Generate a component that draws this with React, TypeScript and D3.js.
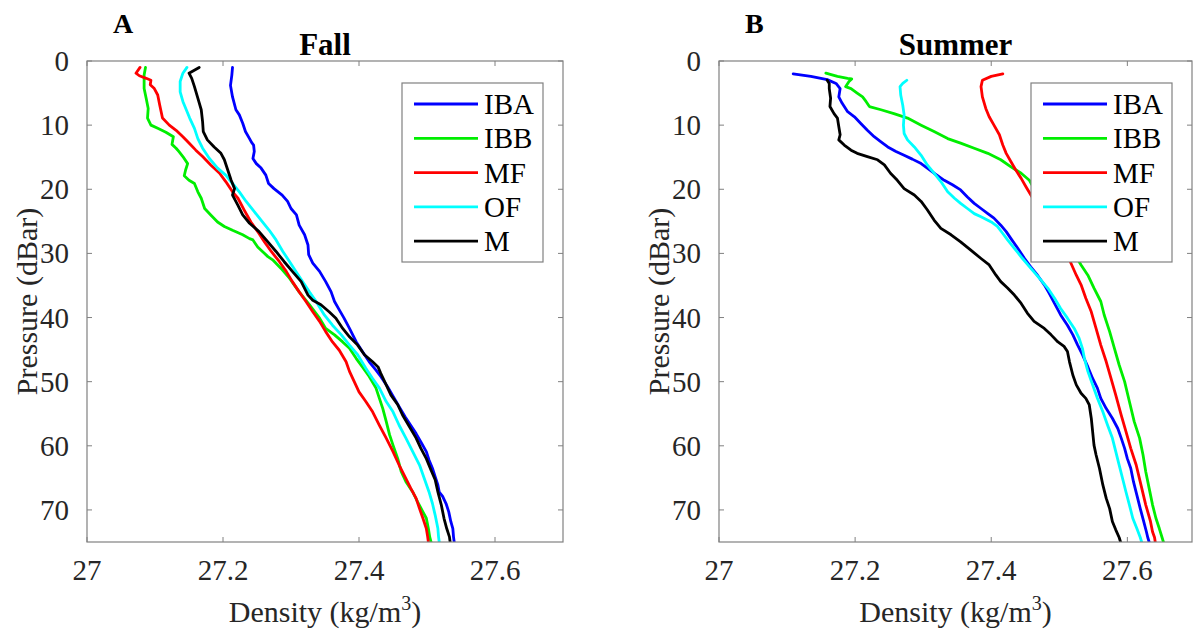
import React from 'react';
import * as d3 from 'd3';

type Pt = [number, number]; // [density, pressure]

const seriesNames = ['IBA', 'IBB', 'MF', 'OF', 'M'];
const seriesColors = ['#0000ff', '#00ee00', '#ff0000', '#00ffff', '#000000'];
const xTicks = [27, 27.2, 27.4, 27.6];
const yTicks = [0, 10, 20, 30, 40, 50, 60, 70];
const panelTitles = ['Fall', 'Summer'];
const panelLetters = ['A', 'B'];

// ---- Fall ----
const fallIBA: Pt[] = [[27.214,1.0],[27.213,2.2],[27.211,3.8],[27.214,5.6],[27.219,7.6],[27.224,8.4],[27.229,9.7],[27.233,11.0],[27.239,12.1],[27.242,12.7],[27.245,13.1],[27.246,14.1],[27.244,15.2],[27.249,16.0],[27.256,16.7],[27.263,17.8],[27.267,19.1],[27.275,19.9],[27.287,20.9],[27.295,21.9],[27.300,23.0],[27.308,24.0],[27.312,25.6],[27.320,27.1],[27.325,28.7],[27.326,30.2],[27.332,31.5],[27.342,32.8],[27.351,34.4],[27.359,36.0],[27.364,37.5],[27.371,38.8],[27.378,40.1],[27.386,41.7],[27.396,43.8],[27.405,45.3],[27.415,46.9],[27.425,48.2],[27.432,49.2],[27.442,50.8],[27.452,52.6],[27.459,53.9],[27.468,55.5],[27.476,56.8],[27.484,58.1],[27.491,59.4],[27.499,60.9],[27.503,62.2],[27.508,63.5],[27.512,64.8],[27.516,66.1],[27.518,67.2],[27.523,67.9],[27.528,69.0],[27.532,70.3],[27.535,71.8],[27.538,72.9],[27.539,74.2],[27.540,75]];
const fallIBB: Pt[] = [[27.086,1.0],[27.084,2.2],[27.084,4.3],[27.087,5.8],[27.090,7.4],[27.089,8.9],[27.094,10.0],[27.104,10.5],[27.116,11.1],[27.127,11.8],[27.125,13.0],[27.131,13.6],[27.135,14.1],[27.141,14.9],[27.148,16.0],[27.145,17.0],[27.143,17.9],[27.150,18.6],[27.158,19.1],[27.163,20.4],[27.168,21.4],[27.173,23.0],[27.182,24.0],[27.192,25.1],[27.202,25.8],[27.214,26.4],[27.229,27.1],[27.239,27.7],[27.244,27.9],[27.251,29.0],[27.258,29.7],[27.266,30.5],[27.273,31.0],[27.285,32.3],[27.298,33.9],[27.312,36.0],[27.327,38.0],[27.342,40.1],[27.351,41.7],[27.364,42.7],[27.376,43.8],[27.386,44.8],[27.396,46.4],[27.405,47.7],[27.415,49.2],[27.425,51.0],[27.430,52.6],[27.435,54.2],[27.440,56.2],[27.445,58.3],[27.450,59.9],[27.457,62.0],[27.462,64.0],[27.469,65.6],[27.479,67.2],[27.486,68.7],[27.494,70.3],[27.499,71.3],[27.502,72.9],[27.504,74.2],[27.506,75]];
const fallMF: Pt[] = [[27.078,1.0],[27.072,1.9],[27.077,2.3],[27.087,2.7],[27.094,3.0],[27.093,3.7],[27.099,4.3],[27.104,5.3],[27.107,6.9],[27.111,8.9],[27.121,10.0],[27.131,10.8],[27.141,11.8],[27.150,12.8],[27.160,13.9],[27.170,14.9],[27.182,16.2],[27.195,17.5],[27.204,18.8],[27.214,20.4],[27.222,21.4],[27.231,23.2],[27.241,25.1],[27.251,26.6],[27.261,28.2],[27.271,29.7],[27.283,31.3],[27.293,32.8],[27.302,34.4],[27.312,36.0],[27.322,37.5],[27.332,39.1],[27.342,40.6],[27.351,42.2],[27.361,43.8],[27.371,45.1],[27.381,46.9],[27.386,48.4],[27.393,50.0],[27.400,51.6],[27.410,53.1],[27.420,54.7],[27.430,56.8],[27.440,58.8],[27.450,60.9],[27.459,63.0],[27.469,65.1],[27.476,66.6],[27.484,68.2],[27.489,69.8],[27.494,71.3],[27.499,72.9],[27.501,74.2],[27.502,75]];
const fallOF: Pt[] = [[27.147,1.0],[27.141,1.9],[27.137,3.2],[27.137,4.8],[27.141,6.3],[27.146,7.6],[27.151,8.9],[27.158,10.5],[27.163,12.1],[27.170,13.6],[27.180,15.2],[27.192,16.7],[27.204,17.8],[27.214,19.1],[27.224,20.4],[27.234,21.9],[27.246,23.5],[27.258,25.1],[27.268,26.4],[27.278,27.9],[27.288,29.7],[27.298,31.3],[27.307,32.8],[27.317,34.4],[27.327,36.0],[27.337,37.5],[27.349,39.6],[27.361,41.2],[27.374,42.7],[27.386,44.3],[27.398,45.8],[27.410,47.9],[27.420,49.5],[27.430,51.0],[27.440,53.1],[27.450,54.7],[27.459,56.8],[27.469,58.8],[27.479,60.9],[27.489,63.0],[27.496,65.1],[27.503,67.2],[27.508,69.0],[27.512,70.8],[27.516,72.9],[27.517,74.2],[27.518,75]];
const fallM: Pt[] = [[27.165,1.0],[27.150,1.9],[27.154,2.7],[27.158,4.0],[27.163,5.8],[27.168,7.6],[27.170,9.5],[27.171,11.0],[27.177,12.3],[27.187,13.4],[27.197,14.4],[27.202,15.4],[27.207,17.0],[27.212,18.6],[27.217,19.9],[27.214,20.9],[27.222,22.5],[27.229,24.0],[27.239,25.3],[27.253,26.6],[27.266,28.2],[27.278,29.7],[27.290,31.3],[27.302,32.8],[27.315,34.4],[27.325,36.5],[27.332,37.3],[27.344,38.0],[27.356,39.1],[27.366,40.1],[27.376,41.7],[27.386,43.0],[27.398,44.3],[27.408,45.8],[27.420,46.9],[27.428,47.7],[27.432,48.7],[27.440,50.5],[27.447,52.1],[27.457,53.6],[27.464,55.2],[27.474,57.0],[27.484,58.8],[27.491,60.4],[27.499,62.0],[27.506,63.8],[27.512,65.3],[27.516,67.2],[27.521,69.2],[27.525,71.3],[27.529,72.9],[27.533,74.2],[27.534,75]];

// ---- Summer ----
const summerIBA: Pt[] = [[27.109,2.0],[27.135,2.4],[27.159,2.9],[27.172,3.5],[27.178,4.3],[27.176,5.6],[27.181,6.6],[27.189,7.9],[27.199,8.7],[27.208,9.7],[27.218,10.8],[27.228,11.8],[27.238,12.6],[27.248,13.4],[27.260,14.1],[27.272,14.7],[27.284,15.3],[27.297,16.0],[27.306,16.7],[27.316,17.5],[27.331,18.6],[27.343,19.3],[27.355,20.1],[27.365,21.2],[27.375,22.2],[27.385,23.0],[27.395,23.8],[27.404,24.5],[27.414,25.6],[27.422,26.6],[27.429,27.7],[27.439,29.2],[27.449,30.8],[27.458,32.1],[27.468,33.4],[27.478,34.9],[27.485,36.2],[27.493,37.8],[27.502,39.6],[27.512,41.2],[27.520,42.7],[27.527,44.3],[27.534,45.8],[27.542,47.7],[27.549,49.5],[27.556,51.0],[27.561,52.6],[27.569,54.2],[27.578,55.7],[27.586,57.3],[27.591,58.8],[27.596,60.4],[27.600,62.0],[27.605,63.5],[27.609,65.6],[27.614,67.7],[27.619,69.8],[27.624,71.8],[27.628,73.4],[27.630,74.3],[27.632,75]];
const summerIBB: Pt[] = [[27.157,1.9],[27.174,2.4],[27.189,2.7],[27.195,2.8],[27.191,3.2],[27.186,4.0],[27.194,4.3],[27.203,5.0],[27.211,5.6],[27.216,6.3],[27.221,7.1],[27.238,7.6],[27.257,8.2],[27.277,8.9],[27.297,10.0],[27.316,11.0],[27.336,12.1],[27.355,12.8],[27.375,13.6],[27.395,14.4],[27.414,15.4],[27.429,16.5],[27.444,17.5],[27.456,18.6],[27.463,19.9],[27.471,21.4],[27.478,23.0],[27.483,24.5],[27.493,26.1],[27.505,27.7],[27.520,29.7],[27.532,31.8],[27.542,33.4],[27.551,35.4],[27.561,37.5],[27.566,39.6],[27.574,42.2],[27.581,44.8],[27.588,47.4],[27.596,50.0],[27.603,53.1],[27.610,56.2],[27.618,58.8],[27.623,61.4],[27.627,64.0],[27.632,66.6],[27.637,69.2],[27.642,71.3],[27.647,72.9],[27.651,74.3],[27.653,75]];
const summerMF: Pt[] = [[27.417,2.0],[27.400,2.4],[27.387,3.0],[27.385,4.0],[27.387,5.6],[27.392,7.4],[27.397,8.7],[27.404,10.0],[27.412,11.5],[27.417,13.1],[27.422,14.4],[27.429,15.7],[27.436,17.0],[27.444,18.3],[27.451,19.6],[27.460,21.2],[27.472,23.0],[27.483,25.1],[27.495,27.1],[27.507,29.2],[27.517,31.5],[27.525,33.4],[27.532,34.9],[27.539,37.0],[27.547,39.1],[27.554,41.7],[27.561,44.3],[27.569,46.9],[27.576,49.5],[27.583,52.1],[27.591,55.2],[27.598,57.8],[27.605,60.4],[27.613,63.0],[27.620,66.1],[27.627,69.2],[27.634,71.8],[27.637,73.4],[27.640,74.3],[27.641,75]];
const summerOF: Pt[] = [[27.276,3.0],[27.270,3.5],[27.266,4.0],[27.267,5.3],[27.270,6.9],[27.272,8.4],[27.271,10.0],[27.272,11.3],[27.277,12.3],[27.287,13.4],[27.297,14.7],[27.306,16.2],[27.316,17.5],[27.326,18.8],[27.336,20.4],[27.346,21.4],[27.355,22.2],[27.365,23.0],[27.375,23.8],[27.385,24.3],[27.400,25.1],[27.409,25.8],[27.417,26.9],[27.424,27.9],[27.434,29.2],[27.446,30.8],[27.458,32.3],[27.471,33.9],[27.483,35.4],[27.493,37.0],[27.502,38.6],[27.512,40.1],[27.522,41.7],[27.529,43.2],[27.534,44.8],[27.537,46.4],[27.542,48.4],[27.549,50.5],[27.556,52.6],[27.564,54.7],[27.571,56.8],[27.578,58.8],[27.583,60.9],[27.588,63.0],[27.593,65.1],[27.598,67.2],[27.603,69.2],[27.608,71.3],[27.614,72.9],[27.619,74.3],[27.621,75]];
const summerM: Pt[] = [[27.159,3.0],[27.162,3.5],[27.162,4.3],[27.164,5.8],[27.163,7.1],[27.169,8.2],[27.174,8.9],[27.176,10.2],[27.178,11.5],[27.176,12.3],[27.184,13.1],[27.194,13.9],[27.203,14.4],[27.218,14.9],[27.233,15.4],[27.243,16.2],[27.252,17.5],[27.262,18.6],[27.272,19.9],[27.287,20.9],[27.297,21.9],[27.306,23.2],[27.316,24.8],[27.326,26.1],[27.341,27.1],[27.355,28.2],[27.370,29.5],[27.385,30.8],[27.397,31.8],[27.407,33.4],[27.414,34.4],[27.424,35.4],[27.434,36.5],[27.444,37.8],[27.453,39.3],[27.463,40.6],[27.478,41.7],[27.488,42.7],[27.498,43.8],[27.507,44.5],[27.512,45.3],[27.515,46.9],[27.520,49.0],[27.525,50.5],[27.532,51.8],[27.539,52.6],[27.544,53.6],[27.547,55.7],[27.549,57.8],[27.551,59.9],[27.554,61.4],[27.559,63.5],[27.564,66.1],[27.569,68.2],[27.574,69.8],[27.578,71.8],[27.583,73.1],[27.588,74.3],[27.590,75]];

const fallSeries = [fallIBA, fallIBB, fallMF, fallOF, fallM];
const summerSeries = [summerIBA, summerIBB, summerMF, summerOF, summerM];

const FONT = 'Liberation Serif, DejaVu Serif, serif';
const TEXT = '#262626';
const FRAME = '#808080';

const TOP = 61;
const BOTTOM = 542;

type PanelProps = {
  idx: number;
  left: number;
  right: number;
  xMax: number;
  data: Pt[][];
};

const serif: React.CSSProperties = { fontFamily: FONT };

function Panel({ idx, left, right, xMax, data }: PanelProps) {
  const x = d3.scaleLinear().domain([27, xMax]).range([left, right]);
  const y = d3.scaleLinear().domain([0, 75]).range([TOP, BOTTOM]);
  const line = d3
    .line<Pt>()
    .x((d) => x(d[0]))
    .y((d) => y(d[1]));
  const clipId = `clip-${idx}`;
  const tick = 5;
  const legX = right - 161;
  const legY = 83;
  const cx = (left + right) / 2;
  return (
    <g style={serif}>
      <defs>
        <clipPath id={clipId}>
          <rect x={left} y={TOP} width={right - left} height={BOTTOM - TOP} />
        </clipPath>
      </defs>
      <rect x={left} y={TOP} width={right - left} height={BOTTOM - TOP} fill="#fff" />
      {/* ticks */}
      {xTicks.map((t) => (
        <g key={'xt' + t}>
          <line x1={x(t)} x2={x(t)} y1={BOTTOM} y2={BOTTOM - tick} stroke={FRAME} strokeWidth={1} />
          <line x1={x(t)} x2={x(t)} y1={TOP} y2={TOP + tick} stroke={FRAME} strokeWidth={1} />
          <text x={x(t)} y={580} textAnchor="middle" style={serif} fontSize={29} fill={TEXT}>
            {String(t)}
          </text>
        </g>
      ))}
      {yTicks.map((t) => (
        <g key={'yt' + t}>
          <line x1={left} x2={left + tick} y1={y(t)} y2={y(t)} stroke={FRAME} strokeWidth={1} />
          <line x1={right} x2={right - tick} y1={y(t)} y2={y(t)} stroke={FRAME} strokeWidth={1} />
          <text x={left - 18} y={y(t) + 10} textAnchor="end" style={serif} fontSize={29} fill={TEXT}>
            {String(t)}
          </text>
        </g>
      ))}
      {/* lines */}
      <g clipPath={`url(#${clipId})`}>
        {data.map((s, i) => (
          <path
            key={i}
            d={line(s) || ''}
            fill="none"
            stroke={seriesColors[i]}
            strokeWidth={2.8}
            strokeLinejoin="round"
            strokeLinecap="round"
          />
        ))}
      </g>
      {/* frame */}
      <rect x={left} y={TOP} width={right - left} height={BOTTOM - TOP} fill="none" stroke={FRAME} strokeWidth={1.2} />
      {/* legend */}
      <rect x={legX} y={legY} width={141} height={179} fill="#fff" stroke={FRAME} strokeWidth={1.2} />
      {seriesNames.map((n, i) => {
        const ry = legY + 21 + i * 34.3;
        return (
          <g key={n}>
            <line x1={legX + 12} x2={legX + 76} y1={ry} y2={ry} stroke={seriesColors[i]} strokeWidth={2.8} />
            <text x={legX + 82} y={ry + 10} style={serif} fontSize={29} fill="#000">
              {n}
            </text>
          </g>
        );
      })}
      {/* axis labels */}
      <text x={cx} y={622} textAnchor="middle" style={serif} fontSize={30} fill={TEXT}>
        Density (kg/m
        <tspan fontSize={20} dy={-12}>3</tspan>
        <tspan dy={12}>)</tspan>
      </text>
      <text
        transform={`translate(${left - 50},${(TOP + BOTTOM) / 2}) rotate(-90)`}
        textAnchor="middle"
        style={serif}
        fontSize={30}
        fill={TEXT}
      >
        Pressure (dBar)
      </text>
      {/* title */}
      <text x={cx} y={55} textAnchor="middle" style={serif} fontSize={31} fontWeight="bold" fill="#000">
        {panelTitles[idx]}
      </text>
      <text x={left + 26} y={33} style={serif} fontSize={28} fontWeight="bold" fill="#000">
        {panelLetters[idx]}
      </text>
    </g>
  );
}

export default function App() {
  return (
    <svg
      width={1193}
      height={632}
      style={{ position: 'absolute', left: 0, top: 0, background: '#fff', fontFamily: FONT }}
    >
      <rect x={0} y={0} width={1193} height={632} fill="#fff" />
      <Panel idx={0} left={87} right={563} xMax={27.7} data={fallSeries} />
      <Panel idx={1} left={719} right={1192} xMax={27.695} data={summerSeries} />
    </svg>
  );
}
